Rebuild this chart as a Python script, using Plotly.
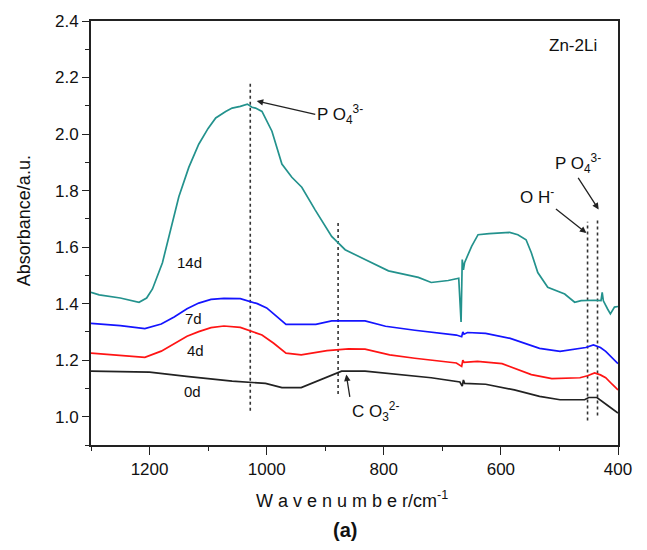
import plotly.graph_objects as go

# ---- data (wavenumber cm^-1, absorbance a.u.) ----
x_14d = [1300, 1286, 1250, 1218, 1205, 1195, 1178, 1164, 1150, 1133, 1116, 1100, 1087, 1070, 1059, 1045, 1033, 1025, 1019, 1008, 991, 974, 957, 940, 917, 889, 866, 832, 792, 741, 719, 690, 672, 668, 666, 664, 662, 650, 639, 620, 605, 585, 571, 557, 548, 537, 520, 491, 474, 463, 440, 429, 427, 425, 418, 413, 406, 400]
y_14d = [1.44, 1.431, 1.42, 1.405, 1.42, 1.452, 1.545, 1.661, 1.778, 1.882, 1.964, 2.02, 2.057, 2.08, 2.092, 2.098, 2.106, 2.095, 2.092, 2.08, 2.01, 1.894, 1.847, 1.812, 1.731, 1.638, 1.591, 1.556, 1.516, 1.493, 1.475, 1.482, 1.49, 1.335, 1.556, 1.52, 1.545, 1.603, 1.644, 1.648, 1.65, 1.652, 1.644, 1.626, 1.58, 1.51, 1.458, 1.434, 1.405, 1.411, 1.412, 1.411, 1.44, 1.41, 1.382, 1.364, 1.388, 1.39]

x_7d = [1300, 1250, 1208, 1180, 1158, 1136, 1116, 1095, 1073, 1045, 1016, 1000, 988, 967, 940, 916, 889, 860, 832, 797, 747, 676, 667, 665, 663, 657, 626, 584, 534, 499, 470, 455, 442, 430, 421, 410, 400]
y_7d = [1.330, 1.322, 1.312, 1.328, 1.353, 1.382, 1.402, 1.415, 1.419, 1.418, 1.40, 1.385, 1.364, 1.327, 1.327, 1.327, 1.339, 1.340, 1.339, 1.32, 1.306, 1.289, 1.283, 1.30, 1.292, 1.298, 1.295, 1.277, 1.242, 1.231, 1.239, 1.245, 1.254, 1.245, 1.231, 1.21, 1.188]

x_4d = [1300, 1250, 1208, 1180, 1158, 1136, 1116, 1095, 1073, 1045, 1008, 988, 967, 941, 897, 860, 832, 790, 747, 676, 667, 665, 663, 640, 598, 548, 513, 465, 452, 440, 430, 421, 410, 400]
y_4d = [1.225, 1.218, 1.210, 1.232, 1.26, 1.285, 1.301, 1.315, 1.321, 1.316, 1.289, 1.26, 1.225, 1.219, 1.234, 1.240, 1.239, 1.219, 1.207, 1.19, 1.178, 1.20, 1.192, 1.196, 1.188, 1.149, 1.135, 1.138, 1.145, 1.155, 1.148, 1.138, 1.115, 1.095]

x_0d = [1300, 1200, 1137, 1059, 1002, 974, 941, 905, 872, 832, 775, 719, 670, 666, 664, 662, 626, 577, 534, 499, 457, 450, 436, 428, 417, 400]
y_0d = [1.161, 1.158, 1.143, 1.126, 1.118, 1.103, 1.103, 1.132, 1.161, 1.161, 1.149, 1.138, 1.123, 1.108, 1.13, 1.118, 1.115, 1.095, 1.072, 1.06, 1.06, 1.068, 1.068, 1.055, 1.039, 1.013]

# dotted reference lines: wavenumber, y-bottom, y-top
ref_x = [1028, 878, 452, 435]
ref_ybot = [1.021, 1.08, 0.987, 1.004]
ref_ytop = [2.187, 1.69, 1.69, 1.702]

series_names = ["14d", "7d", "4d", "0d"]
x_ticks = [1200, 1000, 800, 600, 400]
y_ticks = [1.0, 1.2, 1.4, 1.6, 1.8, 2.0, 2.2, 2.4]

FONT = "Liberation Sans, Arial"
INK = "#111111"

fig = go.Figure()

for xv, yb, yt in zip(ref_x, ref_ybot, ref_ytop):
    fig.add_trace(go.Scatter(x=[xv, xv], y=[yb, yt], mode="lines",
                             line=dict(color="#333333", width=1.6, dash="dot"),
                             showlegend=False, hoverinfo="skip"))

styles = {"14d": "#23928d", "7d": "#1414ff", "4d": "#ff1414", "0d": "#222222"}
for name, xs, ys in zip(series_names, [x_14d, x_7d, x_4d, x_0d], [y_14d, y_7d, y_4d, y_0d]):
    fig.add_trace(go.Scatter(x=xs, y=ys, mode="lines", name=name,
                             line=dict(color=styles[name], width=1.7),
                             showlegend=False))

ann = []
# curve labels
for t, xx, yy in [("14d", 1131, 1.545), ("7d", 1125, 1.347), ("4d", 1122, 1.235), ("0d", 1126, 1.09)]:
    ann.append(dict(x=xx, y=yy, xref="x", yref="y", text=t, showarrow=False,
                    font=dict(family=FONT, size=15, color=INK)))
ann.append(dict(x=432, y=2.313, xref="x", yref="y", text="Zn-2Li", showarrow=False,
                xanchor="right", font=dict(family=FONT, size=17, color=INK)))
# arrow annotations
arrow = dict(showarrow=True, arrowhead=2, arrowsize=1, arrowwidth=1.3,
             arrowcolor="#222222", standoff=0, axref="x", ayref="y", xref="x", yref="y")
ann.append(dict(x=1017, y=2.117, ax=917, ay=2.07, text="P O<sub>4</sub><sup>3-</sup>",
                xanchor="left", font=dict(family=FONT, size=17, color=INK), **arrow))
ann.append(dict(x=864, y=1.149, ax=858, ay=1.07, text="C O<sub>3</sub><sup>2-</sup>",
                xanchor="left", yanchor="top", font=dict(family=FONT, size=17, color=INK), **arrow))
ann.append(dict(x=454, y=1.65, ax=506, ay=1.735, text="O H<sup>-</sup>",
                xanchor="right", yanchor="bottom", font=dict(family=FONT, size=17, color=INK), **arrow))
ann.append(dict(x=433, y=1.733, ax=468, ay=1.845, text="P O<sub>4</sub><sup>3-</sup>",
                xanchor="center", yanchor="bottom", font=dict(family=FONT, size=17, color=INK), **arrow))
# axis titles and panel label
ann.append(dict(x=0.495, y=-0.128, xref="paper", yref="paper", xanchor="center", yanchor="middle",
                text="W a v e n u m b e r/cm<sup>-1</sup>", showarrow=False,
                font=dict(family=FONT, size=18, color=INK)))
ann.append(dict(x=-0.127, y=0.528, xref="paper", yref="paper", xanchor="center", yanchor="middle",
                text="Absorbance/a.u.", textangle=-90, showarrow=False,
                font=dict(family=FONT, size=18, color=INK)))
ann.append(dict(x=0.482, y=-0.2, xref="paper", yref="paper", xanchor="center", yanchor="middle",
                text="<b>(a)</b>", showarrow=False,
                font=dict(family=FONT, size=20, color=INK)))

fig.update_layout(
    width=647, height=550,
    margin=dict(l=91, r=29, t=15, b=105),
    paper_bgcolor="white", plot_bgcolor="white",
    annotations=ann,
    showlegend=False,
)
fig.update_xaxes(range=[1300, 400], tickvals=x_ticks, ticks="outside", ticklen=8, tickwidth=1.4,
                 tickcolor="#222222",
                 showline=True, linecolor="#222222", linewidth=1.8, mirror=True, showgrid=False,
                 zeroline=False, tickfont=dict(family=FONT, size=17, color=INK),
                 minor=dict(dtick=100, tick0=400, ticks="outside", ticklen=4, tickcolor="#222222"))
fig.update_yaxes(range=[0.9, 2.4], tickvals=y_ticks, tickformat=".1f", ticks="outside", ticklen=7,
                 tickwidth=1.4, tickcolor="#222222",
                 showline=True, linecolor="#222222", linewidth=1.8, mirror=True,
                 showgrid=False, zeroline=False,
                 tickfont=dict(family=FONT, size=17, color=INK),
                 minor=dict(dtick=0.1, tick0=0.9, ticks="outside", ticklen=4, tickcolor="#222222"))

fig.write_html("out.html")
